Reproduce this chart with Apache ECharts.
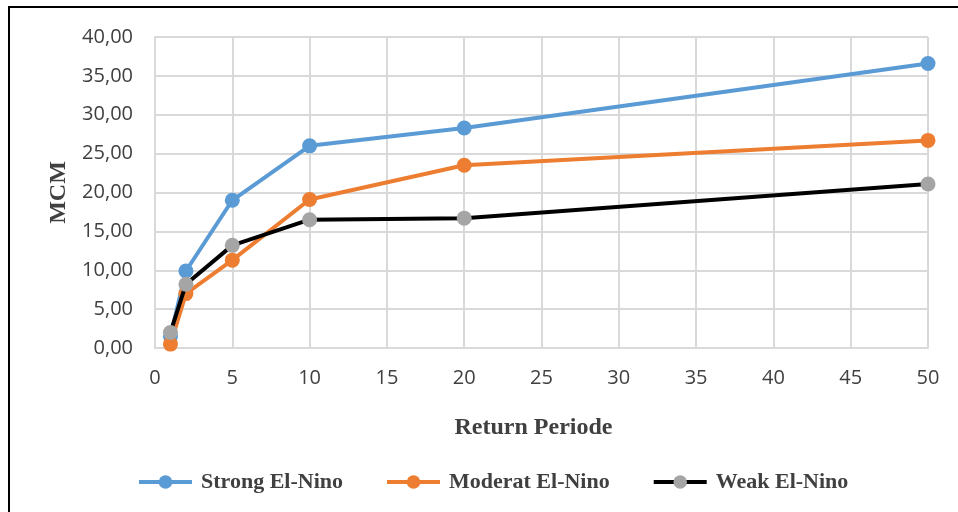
<!DOCTYPE html>
<html>
<head>
<meta charset="utf-8">
<script src="https://cdn.jsdelivr.net/npm/echarts@6/dist/echarts.min.js"></script>
<style>
html,body{margin:0;padding:0;background:#fff;}
#chart{width:958px;height:512px;}
</style>
</head>
<body>
<div id="chart"></div>
<script>
const returnPeriods = [1, 2, 5, 10, 20, 50];
const strongElNino = [1.5, 9.9, 19.0, 26.0, 28.3, 36.6];
const moderatElNino = [0.5, 7.0, 11.3, 19.1, 23.5, 26.7];
const weakElNino = [2.0, 8.2, 13.2, 16.5, 16.7, 21.1];
const seriesNames = ['Strong El-Nino', 'Moderat El-Nino', 'Weak El-Nino'];

function pairs(vals) { return returnPeriods.map((x, i) => [x, vals[i]]); }

const chart = echarts.init(document.getElementById('chart'));
const serif = '"Liberation Serif", "Times New Roman", serif';
const sans = '"Open Sans", "Noto Sans", sans-serif';

function mk(name, vals, lineColor, markerColor, z) {
  return {
    name: name,
    type: 'line',
    data: pairs(vals),
    symbol: 'circle',
    symbolSize: 15,
    z: z,
    lineStyle: { color: lineColor, width: 4 },
    itemStyle: { color: markerColor, borderWidth: 0 },
    color: markerColor,
    animation: false
  };
}

chart.setOption({
  animation: false,
  backgroundColor: '#fff',
  graphic: [{
    type: 'rect',
    shape: { x: 9, y: 7, width: 1200, height: 1200 },
    style: { fill: 'none', stroke: '#000', lineWidth: 2 },
    silent: true
  }],
  grid: { left: 155, right: 30, top: 37, bottom: 164 },
  xAxis: {
    type: 'value',
    min: 0, max: 50, interval: 5,
    name: 'Return Periode',
    nameLocation: 'middle',
    nameGap: 68,
    nameTextStyle: { fontFamily: serif, fontWeight: 'bold', fontSize: 24, color: '#404040', padding: [0, 16, 0, 0] },
    axisLine: { show: true, lineStyle: { color: '#d9d9d9', width: 2 } },
    axisTick: { show: false },
    axisLabel: { fontFamily: sans, fontSize: 20, color: '#404040', margin: 20 },
    splitLine: { show: true, lineStyle: { color: '#d9d9d9', width: 2 } }
  },
  yAxis: {
    type: 'value',
    min: 0, max: 40, interval: 5,
    name: 'MCM',
    nameLocation: 'middle',
    nameGap: 80,
    nameRotate: 90,
    nameTextStyle: { fontFamily: serif, fontWeight: 'bold', fontSize: 24, color: '#404040' },
    axisLine: { show: true, lineStyle: { color: '#d9d9d9', width: 2 } },
    axisTick: { show: false },
    axisLabel: {
      fontFamily: sans, fontSize: 20, color: '#404040', margin: 22,
      formatter: v => v.toFixed(2).replace('.', ',')
    },
    splitLine: { show: true, lineStyle: { color: '#d9d9d9', width: 2 } }
  },
  legend: {
    left: 137,
    top: 471,
    padding: 0,
    itemWidth: 53,
    itemHeight: 17,
    itemGap: 42,
    data: seriesNames,
    lineStyle: { width: 4 },
    textStyle: { fontFamily: serif, fontWeight: 'bold', fontSize: 22, color: '#404040', padding: [0, 0, 0, 4] }
  },
  series: [
    mk(seriesNames[0], strongElNino, '#5b9bd5', '#5b9bd5', 2),
    mk(seriesNames[1], moderatElNino, '#ed7d31', '#ed7d31', 3),
    mk(seriesNames[2], weakElNino, '#000000', '#a5a5a5', 4)
  ]
});
</script>
</body>
</html>
